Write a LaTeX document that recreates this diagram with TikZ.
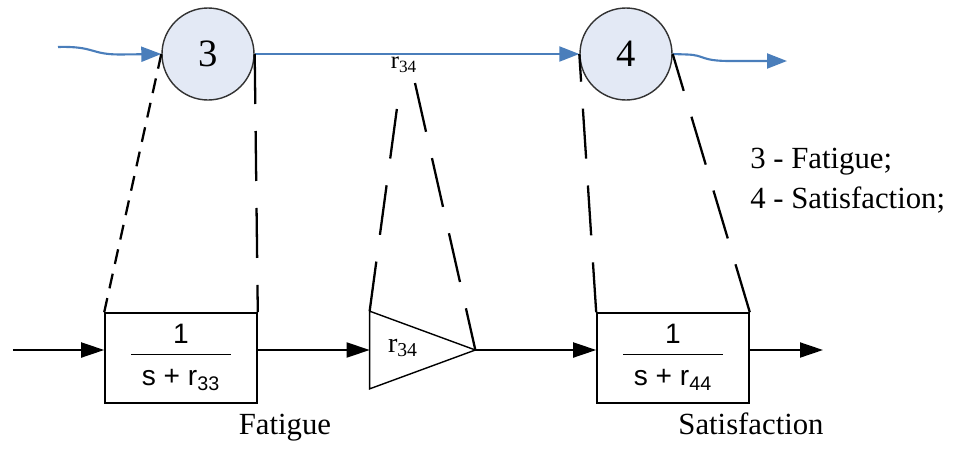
\documentclass[tikz,border=0pt]{standalone}
\usepackage{fontspec}
\setmainfont{Liberation Serif}
\setsansfont{Liberation Sans}
\usepackage{xcolor}
\usepackage{tikz}
\usetikzlibrary{arrows.meta,positioning,calc}
\definecolor{FlowBlue}{HTML}{4A7EBB}
\definecolor{StateFill}{HTML}{E3E9F5}
\newcommand{\lagtf}[1]{\raisebox{.10cm}{\begin{tabular}{@{\hspace{6pt}}c@{\hspace{6pt}}}1\\\hline\rule{0pt}{18pt}s + r\textsubscript{#1}\end{tabular}}}

\begin{document}
\begin{tikzpicture}[x=1cm,y=1cm]
  \tikzset{
    state/.style={circle,draw=black!80,fill=StateFill,line width=.8pt,minimum size=1.84cm,
      inner sep=0pt,font=\fontsize{22}{26}\selectfont},
    lag/.style={draw,line width=.9pt,minimum width=3.04cm,minimum height=1.80cm,inner sep=0pt,
      font=\sffamily\fontsize{16}{19}\selectfont},
    gainbox/.style={minimum width=2.10cm,minimum height=1.54cm,inner sep=0pt},
    flow/.style={-{Triangle[length=.40cm,width=.30cm]},FlowBlue,line width=1.2pt},
    sig/.style={-{Triangle[length=.46cm,width=.30cm]},line width=1.1pt},
    longdash/.style={line width=1.3pt,dash pattern=on 1cm off .54cm},
    shortdash/.style={line width=1.3pt,dash pattern=on .3cm off .2cm},
    lbl/.style={font=\fontsize{17.5}{22.8}\selectfont,inner sep=0pt}
  }
  \useasboundingbox (0,0) rectangle (19.16,-9.00);

  % states on the top line
  \node[state] (c3) at (4.16,-1.08) {3};
  \node[state] (c4) at (12.52,-1.08) {4};
  \coordinate (in) at (1.16,-0.94);
  \coordinate (out) at (15.74,-1.22);
  \draw[flow] (in) .. controls (1.90,-0.92) and (1.80,-1.09) .. (2.40,-1.09) -- (c3.west);
  \draw[flow] (c3.east) -- (c4.west);
  \draw[flow] (c4.east) -- (13.74,-1.09) .. controls (14.10,-1.10) and (14.00,-1.22) .. (14.60,-1.22) -- (out);
  \node[font=\fontsize{14}{16}\selectfont,anchor=base,inner sep=0pt] (gaintop) at (8.08,-1.37) {r\textsubscript{34}};
  \coordinate (gtl) at (7.94,-2.16);
  \coordinate (gtr) at (8.30,-1.66);

  % block diagram
  \node[lag] (b1) at (3.62,-7.16) {\lagtf{33}};
  \node[gainbox] (gain) at (8.45,-7.00) {};
  \draw[line width=.8pt] (gain.north west) -- (gain.east) -- (gain.south west) -- cycle;
  \node[font=\fontsize{16}{19}\selectfont,anchor=base,inner sep=0pt] (gainlbl) at (8.06,-7.04) {r\textsubscript{34}};
  \node[lag] (b2) at (13.46,-7.16) {\lagtf{44}};
  \coordinate (in2) at (0.26,-7.00);
  \coordinate (out2) at (16.46,-7.00);
  \draw[sig] (in2) -- (b1.west |- in2);
  \draw[sig] (b1.east |- in2) -- (gain.west);
  \draw[sig] (gain.east) -- (b2.west |- in2);
  \draw[sig] (b2.east |- in2) -- (out2);

  % dashed links
  \draw[shortdash] (c3.west) -- (b1.north west);
  \draw[longdash] (c3.east) -- (b1.north east);
  \draw[longdash] (gain.north west) -- (gtl);
  \draw[longdash] (gtr) -- (gain.east);
  \draw[longdash] (b2.north west) -- (c4.west);
  \draw[longdash] (b2.north east) -- (c4.east);

  \node[lbl,anchor=base] (fat) at (5.70,-8.68) {Fatigue};
  \node[lbl,anchor=base] (sat) at (15.02,-8.68) {Satisfaction};
  \node[lbl,align=left,anchor=west] (legend) at (15.00,-3.61) {3 - Fatigue;\\4 - Satisfaction;};
\end{tikzpicture}
\end{document}
